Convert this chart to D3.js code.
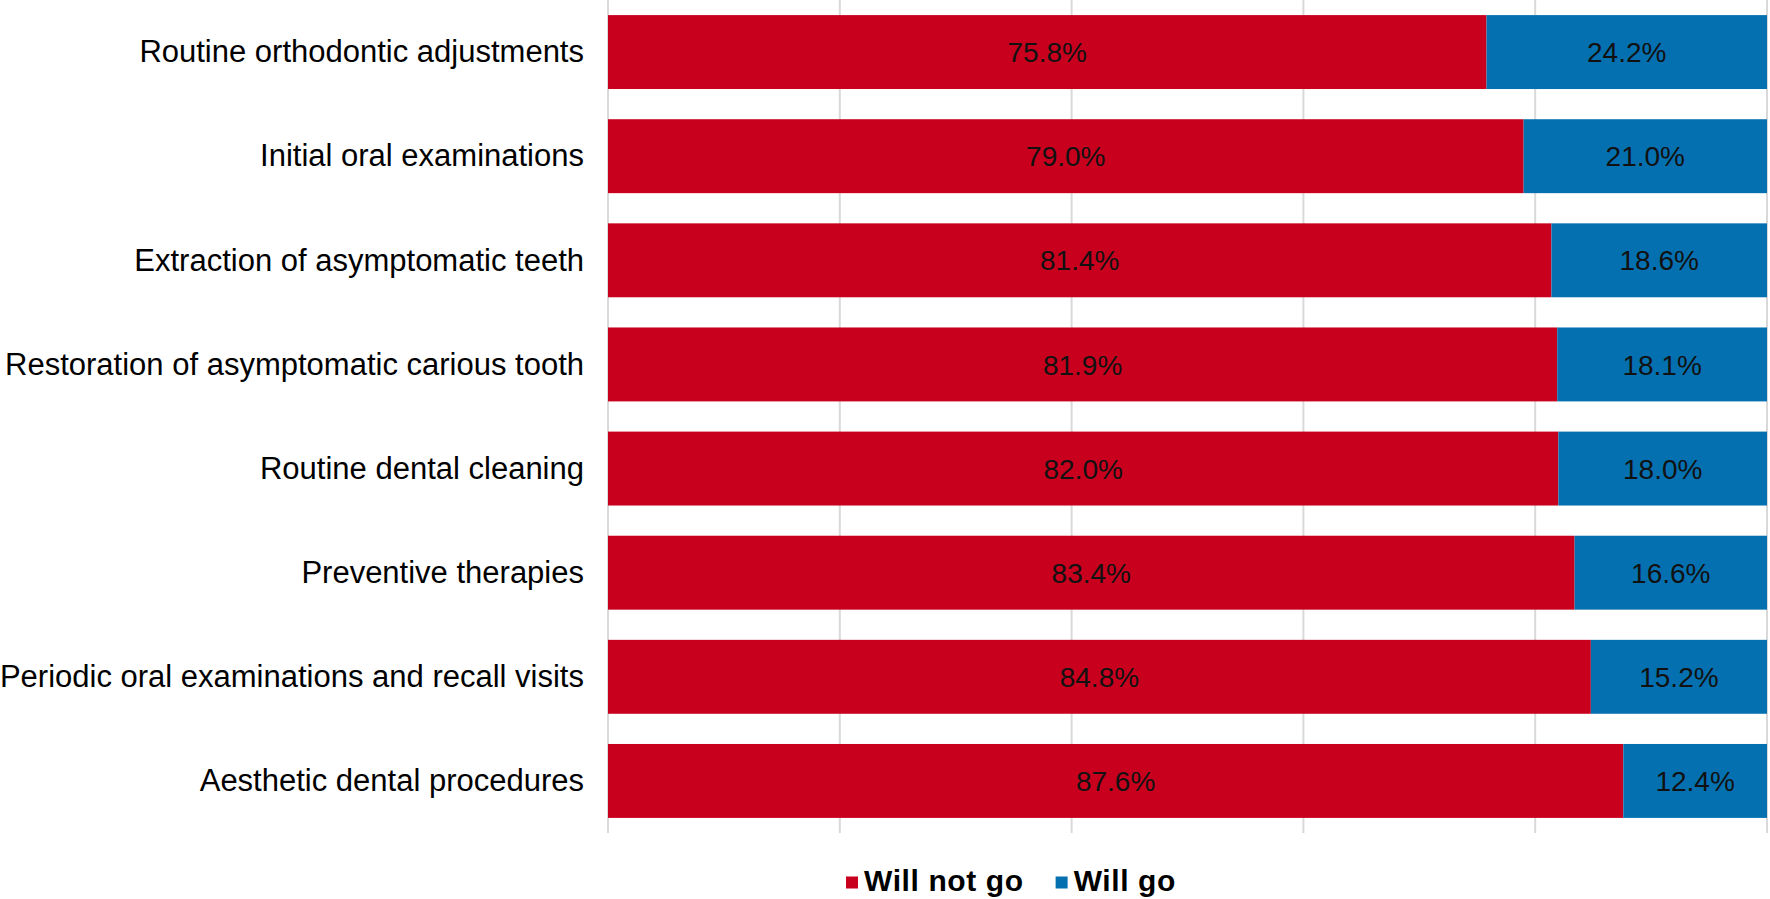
<!DOCTYPE html>
<html>
<head>
<meta charset="utf-8">
<script src="https://cdn.jsdelivr.net/npm/d3@7"></script>
<style>
  html, body { margin: 0; padding: 0; background: #fff; }
  svg { display: block; }
  text { font-family: "Liberation Sans", Arial, Helvetica, sans-serif; }
</style>
</head>
<body>
<svg id="chart" width="1770" height="899"></svg>
<script>
const categories = [
  "Routine orthodontic adjustments",
  "Initial oral examinations",
  "Extraction of asymptomatic teeth",
  "Restoration of asymptomatic carious tooth",
  "Routine dental cleaning",
  "Preventive therapies",
  "Periodic oral examinations and recall visits",
  "Aesthetic dental procedures"
];
const willNotGo = [75.8, 79.0, 81.4, 81.9, 82.0, 83.4, 84.8, 87.6];
const willGo    = [24.2, 21.0, 18.6, 18.1, 18.0, 16.6, 15.2, 12.4];
const seriesNames = ["Will not go", "Will go"];
const xTicks = [0, 20, 40, 60, 80, 100];

const colors = ["#C8001E", "#0570B0"];

const svg = d3.select("#chart");
const plotLeft = 608, plotRight = 1767, plotTop = 0, plotBottom = 833;

const x = d3.scaleLinear().domain([0, 100]).range([plotLeft, plotRight]);
const y = d3.scaleBand().domain(categories).range([plotTop, plotBottom])
  .paddingInner(0.29).paddingOuter(0.145);

// gridlines
svg.append("g").selectAll("line").data(xTicks).join("line")
  .attr("x1", d => x(d)).attr("x2", d => x(d))
  .attr("y1", plotTop).attr("y2", plotBottom)
  .attr("stroke", "#d9d9d9").attr("stroke-width", 2);

const rows = categories.map((c, i) => ({ c, a: willNotGo[i], b: willGo[i] }));

const g = svg.append("g");
g.selectAll("rect.a").data(rows).join("rect").attr("class", "a")
  .attr("x", x(0)).attr("y", d => y(d.c))
  .attr("width", d => x(d.a) - x(0)).attr("height", y.bandwidth())
  .attr("fill", colors[0]);
g.selectAll("rect.b").data(rows).join("rect").attr("class", "b")
  .attr("x", d => x(d.a)).attr("y", d => y(d.c))
  .attr("width", d => x(d.a + d.b) - x(d.a)).attr("height", y.bandwidth())
  .attr("fill", colors[1]);

g.selectAll("text.va").data(rows).join("text").attr("class", "va")
  .attr("x", d => (x(0) + x(d.a)) / 2)
  .attr("y", d => y(d.c) + y.bandwidth() / 2)
  .attr("dy", "0.36em").attr("text-anchor", "middle")
  .attr("font-size", 28).attr("fill", "#111")
  .text(d => d.a.toFixed(1) + "%");
g.selectAll("text.vb").data(rows).join("text").attr("class", "vb")
  .attr("x", d => (x(d.a) + x(d.a + d.b)) / 2)
  .attr("y", d => y(d.c) + y.bandwidth() / 2)
  .attr("dy", "0.36em").attr("text-anchor", "middle")
  .attr("font-size", 28).attr("fill", "#111")
  .text(d => d.b.toFixed(1) + "%");

const yAxis = d3.axisLeft(y).tickSize(0).tickPadding(24);
const ya = svg.append("g").attr("transform", `translate(${plotLeft},0)`).call(yAxis);
ya.select(".domain").remove();
ya.selectAll("text")
  .attr("font-size", 31)
  .attr("font-family", '"Liberation Sans", Arial, Helvetica, sans-serif')
  .attr("fill", "#000")
  .attr("dy", "0.33em");

const legend = svg.append("g");
let lx = 846;
seriesNames.forEach((name, i) => {
  legend.append("rect").attr("x", lx).attr("y", 876.5)
    .attr("width", 12).attr("height", 12).attr("fill", colors[i]);
  const t = legend.append("text").attr("x", lx + 18).attr("y", 891)
    .attr("font-size", 30).attr("font-weight", "bold").attr("fill", "#000")
    .attr("letter-spacing", 0.6)
    .text(name);
  lx = lx + 18 + t.node().getComputedTextLength() + 32;
});
</script>
</body>
</html>
